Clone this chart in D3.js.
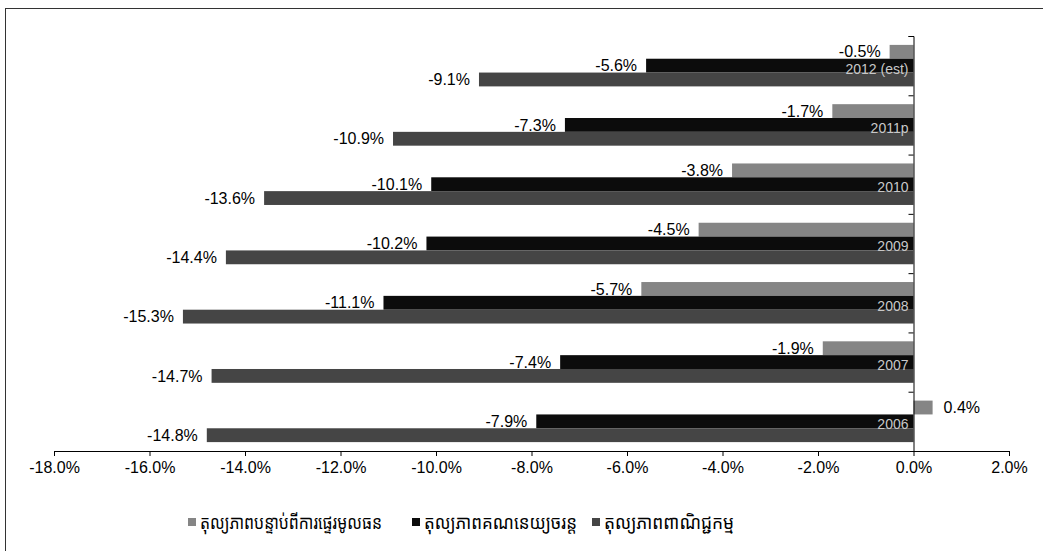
<!DOCTYPE html>
<html>
<head>
<meta charset="utf-8">
<script src="https://d3js.org/d3.v7.min.js"></script>
<style>
  body { margin: 0; background: #fff; }
  text { font-family: "Liberation Sans", Arial, sans-serif; }
  .khmer { font-family: "Noto Sans Khmer", "Khmer OS", "Khmer OS System", "DejaVu Sans", sans-serif; }
</style>
</head>
<body>
<div id="chart"></div>
<script>
// years, top to bottom
var years = ["2012 (est)", "2011p", "2010", "2009", "2008", "2007", "2006"];
// balance after capital transfers (%)
var afterTransfer = [-0.5, -1.7, -3.8, -4.5, -5.7, -1.9, 0.4];
// current account balance (%)
var currentAccount = [-5.6, -7.3, -10.1, -10.2, -11.1, -7.4, -7.9];
// trade balance (%)
var tradeBalance = [-9.1, -10.9, -13.6, -14.4, -15.3, -14.7, -14.8];
var seriesNames = ["តុល្យភាពបន្ទាប់ពីការផ្ទេរមូលធន", "តុល្យភាពគណនេយ្យចរន្ត", "តុល្យភាពពាណិជ្ជកម្ម"];
var xTicks = [-18, -16, -14, -12, -10, -8, -6, -4, -2, 0, 2];

var svgWidth = 1043, svgHeight = 551;
var colors = ["#858585", "#0c0c0c", "#454545"];

var svg = d3.select("#chart").append("svg")
  .attr("width", svgWidth)
  .attr("height", svgHeight);

// chart border
svg.append("rect")
  .attr("x", 5.5).attr("y", 8.5)
  .attr("width", 1040).attr("height", 560)
  .attr("fill", "none")
  .attr("stroke", "#333")
  .attr("stroke-width", 1);

var xScale = d3.scaleLinear().domain([-18, 2]).range([54, 1009]);

var yScale = d3.scaleBand()
  .domain(years)
  .range([36, 451])
  .paddingInner(0.3)
  .paddingOuter(0.15);

var subScale = d3.scaleBand()
  .domain([0, 1, 2])
  .range([0, yScale.bandwidth()]);

// build rows
var rows = [];
years.forEach(function(y, i) {
  [afterTransfer, currentAccount, tradeBalance].forEach(function(s, k) {
    rows.push({ year: y, k: k, value: s[i] });
  });
});

// bars
svg.selectAll("rect.bar")
  .data(rows)
  .enter()
  .append("rect")
  .attr("class", "bar")
  .attr("x", d => xScale(Math.min(0, d.value)))
  .attr("y", d => yScale(d.year) + subScale(d.k))
  .attr("width", d => Math.abs(xScale(d.value) - xScale(0)))
  .attr("height", subScale.bandwidth())
  .attr("fill", d => colors[d.k]);

// value labels
svg.selectAll("text.val")
  .data(rows)
  .enter()
  .append("text")
  .attr("class", "val")
  .attr("x", d => d.value < 0 ? xScale(d.value) - 9 : xScale(d.value) + 11)
  .attr("y", d => yScale(d.year) + subScale(d.k) + subScale.bandwidth() / 2)
  .attr("dy", "0.35em")
  .attr("text-anchor", d => d.value < 0 ? "end" : "start")
  .attr("font-size", "16px")
  .attr("fill", "#000")
  .text(d => d.value.toFixed(1) + "%");

// x axis
var xAxis = d3.axisBottom(xScale)
  .tickValues(xTicks)
  .tickSize(5)
  .tickPadding(6)
  .tickFormat(d => d.toFixed(1) + "%");

var gx = svg.append("g")
  .attr("transform", "translate(0, 451)")
  .call(xAxis);
gx.selectAll("text").attr("font-size", "16px").attr("fill", "#000")
  .style("font-family", "'Liberation Sans', Arial, sans-serif");
gx.selectAll("path, line").attr("stroke", "#000");

// y axis at zero with category boundary ticks
var yBound = d3.scaleLinear().domain([0, years.length]).range([36, 451]);
var gy = svg.append("g")
  .attr("transform", `translate(${xScale(0)}, 0)`)
  .call(d3.axisLeft(yBound).ticks(years.length).tickSize(5).tickFormat(""));
gy.selectAll("path, line").attr("stroke", "#000");

// category labels next to the axis
svg.selectAll("text.cat")
  .data(years)
  .enter()
  .append("text")
  .attr("class", "cat")
  .attr("x", xScale(0) - 5)
  .attr("y", d => yScale(d) + yScale.bandwidth() / 2 + 3)
  .attr("dy", "0.35em")
  .attr("text-anchor", "end")
  .attr("font-size", "14px")
  .attr("fill", "#c8c8c8")
  .text(d => d);

// legend
var legendX = [188, 412, 592];
var legendLen = [182, 153, 130];
var legend = svg.selectAll("g.legend")
  .data(seriesNames)
  .enter()
  .append("g")
  .attr("class", "legend")
  .attr("transform", (d, i) => `translate(${legendX[i]}, 522)`);

legend.append("rect")
  .attr("x", 0).attr("y", -4)
  .attr("width", 8).attr("height", 8)
  .attr("fill", (d, i) => colors[i]);

legend.append("text")
  .attr("class", "khmer")
  .attr("x", 12)
  .attr("dy", "0.35em")
  .attr("font-size", "19px")
  .attr("textLength", (d, i) => legendLen[i])
  .attr("lengthAdjust", "spacingAndGlyphs")
  .attr("fill", "#000")
  .text(d => d);
</script>
</body>
</html>
